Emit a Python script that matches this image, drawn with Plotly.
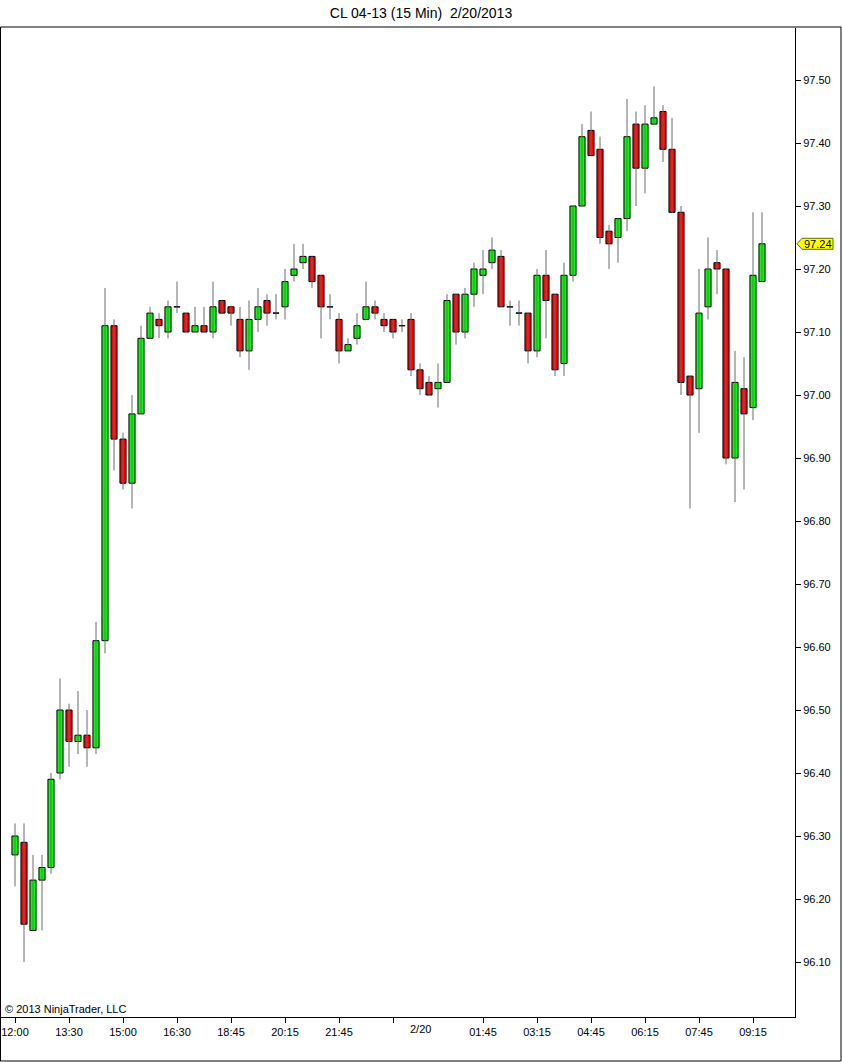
import plotly.graph_objects as go

# ---- data (15-min bars, CL 04-13) ----
opens = [96.27, 96.29, 96.15, 96.23, 96.25, 96.40, 96.50, 96.45, 96.46, 96.44,
         96.61, 97.11, 96.93, 96.86, 96.97, 97.09, 97.12, 97.10, 97.14, 97.13,
         97.10, 97.11, 97.10, 97.15, 97.14, 97.12, 97.07, 97.12, 97.15, 97.13,
         97.14, 97.19, 97.21, 97.22, 97.19, 97.14, 97.12, 97.07, 97.09, 97.12,
         97.14, 97.12, 97.12, 97.11, 97.12, 97.04, 97.02, 97.01, 97.02, 97.16,
         97.10, 97.16, 97.19, 97.21, 97.22, 97.14, 97.13, 97.13, 97.07, 97.19,
         97.16, 97.05, 97.19, 97.30, 97.42, 97.39, 97.26, 97.25, 97.28, 97.43,
         97.36, 97.43, 97.45, 97.39, 97.29, 97.03, 97.01, 97.14, 97.21, 97.20,
         96.90, 97.01, 96.98, 97.18]
highs = [96.32, 96.32, 96.27, 96.27, 96.40, 96.55, 96.51, 96.53, 96.50, 96.64,
         97.17, 97.12, 96.94, 97.00, 97.11, 97.14, 97.13, 97.15, 97.18, 97.13,
         97.14, 97.14, 97.18, 97.15, 97.14, 97.14, 97.15, 97.17, 97.16, 97.16,
         97.20, 97.24, 97.24, 97.22, 97.19, 97.16, 97.13, 97.09, 97.13, 97.18,
         97.15, 97.13, 97.12, 97.12, 97.13, 97.05, 97.03, 97.05, 97.16, 97.16,
         97.17, 97.21, 97.23, 97.25, 97.23, 97.15, 97.15, 97.13, 97.20, 97.23,
         97.16, 97.21, 97.30, 97.43, 97.45, 97.41, 97.27, 97.28, 97.47, 97.45,
         97.46, 97.49, 97.46, 97.44, 97.30, 97.03, 97.20, 97.25, 97.23, 97.20,
         97.07, 97.06, 97.29, 97.29]
lows = [96.22, 96.10, 96.15, 96.15, 96.24, 96.39, 96.41, 96.43, 96.41, 96.43,
        96.59, 96.88, 96.85, 96.82, 96.97, 97.09, 97.09, 97.09, 97.13, 97.10,
        97.10, 97.10, 97.09, 97.13, 97.11, 97.06, 97.04, 97.10, 97.11, 97.12,
        97.12, 97.18, 97.20, 97.17, 97.09, 97.12, 97.05, 97.07, 97.08, 97.12,
        97.12, 97.10, 97.09, 97.10, 97.03, 97.00, 97.00, 96.98, 97.02, 97.08,
        97.09, 97.14, 97.16, 97.20, 97.14, 97.11, 97.11, 97.05, 97.06, 97.09,
        97.03, 97.03, 97.18, 97.30, 97.38, 97.24, 97.20, 97.21, 97.26, 97.30,
        97.32, 97.43, 97.37, 97.29, 97.00, 96.82, 96.94, 97.12, 97.16, 96.89,
        96.83, 96.85, 96.96, 97.18]
closes = [96.30, 96.16, 96.23, 96.25, 96.39, 96.50, 96.45, 96.46, 96.44, 96.61,
          97.11, 96.93, 96.86, 96.97, 97.09, 97.13, 97.11, 97.14, 97.14, 97.10,
          97.11, 97.10, 97.14, 97.13, 97.13, 97.07, 97.12, 97.14, 97.13, 97.13,
          97.18, 97.20, 97.22, 97.18, 97.14, 97.14, 97.07, 97.08, 97.11, 97.14,
          97.13, 97.11, 97.10, 97.11, 97.04, 97.01, 97.00, 97.02, 97.15, 97.10,
          97.16, 97.20, 97.20, 97.23, 97.14, 97.14, 97.13, 97.07, 97.19, 97.15,
          97.04, 97.19, 97.30, 97.41, 97.38, 97.25, 97.24, 97.28, 97.41, 97.36,
          97.43, 97.44, 97.39, 97.29, 97.02, 97.00, 97.13, 97.20, 97.20, 96.90,
          97.02, 96.97, 97.19, 97.24]

tick_bars = [0, 6, 12, 18, 24, 30, 36, 42, 52, 58, 64, 70, 76, 82]
tick_labels = ["12:00", "13:30", "15:00", "16:30", "18:45", "20:15", "21:45", "",
               "01:45", "03:15", "04:45", "06:15", "07:45", "09:15"]
date_label = "2/20"
date_bar = 45
price_ticks = [96.10, 96.20, 96.30, 96.40, 96.50, 96.60, 96.70, 96.80, 96.90,
               97.00, 97.10, 97.20, 97.30, 97.40, 97.50]

UP = "#00FF00"
DOWN = "#FF0000"
WICK = "#6a6a6a"
FONT = "Liberation Sans, Arial, sans-serif"

n = len(opens)
xs = list(range(n))

# wicks
wx, wy = [], []
for i in xs:
    wx += [i, i, None]
    wy += [lows[i], highs[i], None]

# doji segments
dx, dy = [], []
half = 0.34
for i in xs:
    if abs(closes[i] - opens[i]) < 1e-9:
        dx += [i - half, i + half, None]
        dy += [opens[i], opens[i], None]

bases = [min(o, c) for o, c in zip(opens, closes)]
heights = [abs(c - o) for o, c in zip(opens, closes)]
colors = [UP if c > o else DOWN for o, c in zip(opens, closes)]

fig = go.Figure()
fig.add_trace(go.Scatter(x=wx, y=wy, mode="lines",
                         line=dict(color=WICK, width=1), hoverinfo="skip"))
fig.add_trace(go.Bar(x=xs, y=heights, base=bases, width=0.68,
                     marker=dict(color=colors, line=dict(color="#000000", width=1)),
                     hoverinfo="skip"))
fig.add_trace(go.Scatter(x=dx, y=dy, mode="lines",
                         line=dict(color="#202020", width=1), hoverinfo="skip"))

W, H = 842, 1062
L, R, T, B = 1, 47, 28, 45
pw = W - L - R
ph = H - T - B


def px2paper_x(px):
    return (px - L) / pw


def py2paper_y(py):
    return (H - B - py) / ph


fig.update_layout(
    width=W, height=H,
    margin=dict(l=L, r=R, t=T, b=B),
    paper_bgcolor="white", plot_bgcolor="white",
    showlegend=False, hovermode=False,
    font=dict(family=FONT, size=11, color="#000000"),
    title=dict(text="CL 04-13 (15 Min)\u00a0 2/20/2013", x=0.5, xref="container",
               y=1 - 13 / H, yref="container", yanchor="middle", xanchor="center",
               font=dict(family=FONT, size=14, color="#000000")),
    xaxis=dict(range=[-14 / 9, -14 / 9 + pw / 9], showgrid=False, zeroline=False,
               tickmode="array", tickvals=tick_bars, ticktext=tick_labels,
               ticks="outside", ticklen=5, tickcolor="#000000", tickwidth=1,
               showline=True, linecolor="#000000", linewidth=1,
               tickfont=dict(family=FONT, size=11, color="#000000")),
    yaxis=dict(side="right", range=[97.5 - 937 / 630, 97.5 + 52 / 630],
               autorange=False, showgrid=False, zeroline=False,
               tickmode="array", tickvals=price_ticks,
               ticktext=["%.2f" % v for v in price_ticks],
               ticks="outside", ticklen=5, tickcolor="#000000", tickwidth=1,
               showline=True, linecolor="#000000", linewidth=1,
               tickfont=dict(family=FONT, size=11, color="#000000")),
)

# outer frame
fig.add_shape(type="rect", xref="paper", yref="paper",
              x0=px2paper_x(0.5), x1=px2paper_x(841), y0=py2paper_y(1061),
              y1=py2paper_y(27), line=dict(color="#000000", width=1),
              fillcolor="rgba(0,0,0,0)", layer="above")

# last price marker
last = closes[-1]
hh = 5.5 / 630
tip = px2paper_x(797)
bl = px2paper_x(802)
br = px2paper_x(833)
path = (f"M {tip},{last} L {bl},{last + hh} L {br},{last + hh} "
        f"L {br},{last - hh} L {bl},{last - hh} Z")
fig.add_shape(type="path", xref="paper", yref="y", path=path,
              fillcolor="#FFFF00", line=dict(color="#6b6b00", width=1), layer="above")
fig.add_annotation(x=(bl + br) / 2, xref="paper", y=last, yref="y",
                   text="%.2f" % last, showarrow=False, xanchor="center",
                   yanchor="middle", font=dict(family=FONT, size=11, color="#000000"))

# date label
fig.add_annotation(x=date_bar, xref="x", y=py2paper_y(1029), yref="paper",
                   text=date_label, showarrow=False, xanchor="center", yanchor="middle",
                   font=dict(family=FONT, size=11, color="#000000"))

# copyright
fig.add_annotation(x=px2paper_x(3), xref="paper", y=py2paper_y(1009), yref="paper",
                   text="\u00a9 2013 NinjaTrader, LLC", showarrow=False,
                   xanchor="left", yanchor="middle",
                   font=dict(family=FONT, size=11, color="#000000"))

fig.write_html(
    "out.html",
    config={"displayModeBar": False, "staticPlot": True},
    post_script="document.body.style.margin='0';document.body.style.overflow='hidden';"
                "document.documentElement.style.overflow='hidden';",
)
